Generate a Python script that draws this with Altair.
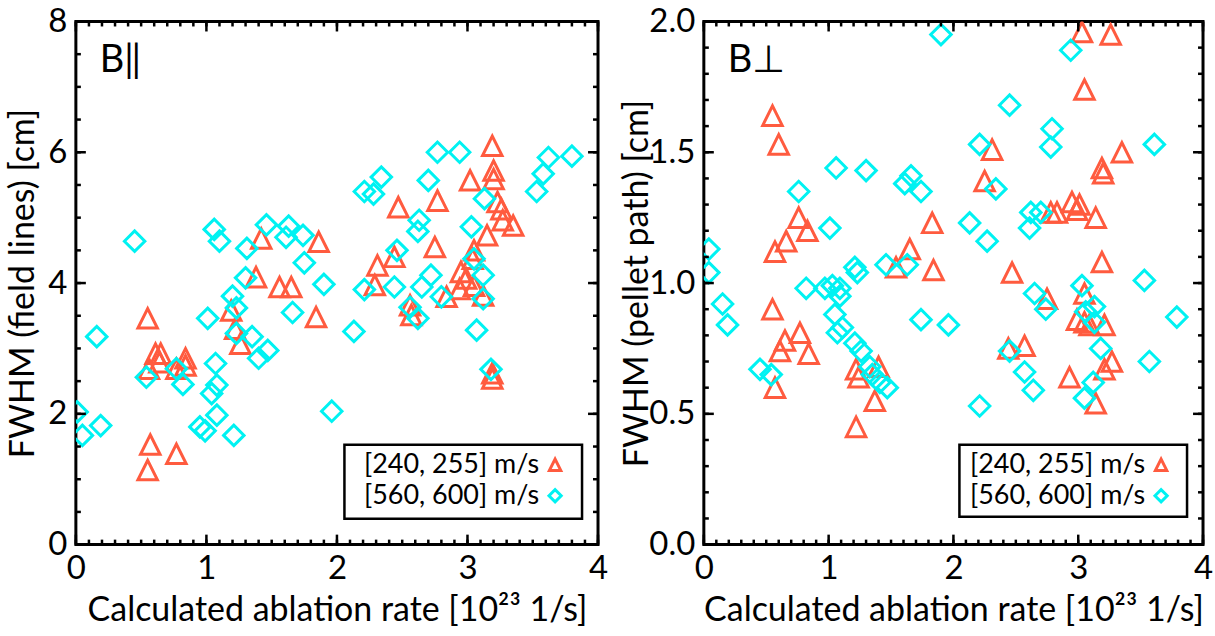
import altair as alt
import pandas as pd
import numpy as np

# ---------------- data ----------------
left_tri_x = [0.55, 0.61, 0.65, 0.64, 0.56, 0.84, 0.77, 0.84, 0.57, 0.55, 0.77,
              1.19, 1.22, 1.26, 1.38, 1.56, 1.65, 1.84, 1.42, 1.86,
              3.19, 3.20, 3.20, 3.02, 2.77, 2.47, 3.23, 3.26, 3.27, 3.35, 3.15, 3.05, 2.75, 3.04, 2.31, 2.44, 2.95,
              2.29, 2.56, 2.57, 2.84, 2.94, 2.99, 3.05, 3.12, 3.19, 3.19]
left_tri_y = [3.46, 2.92, 2.92, 2.79, 2.69, 2.85, 2.69, 2.74, 1.53, 1.14, 1.39,
              3.58, 3.30, 3.07, 4.09, 3.94, 3.94, 3.48, 4.68, 4.63,
              6.10, 5.72, 5.59, 5.57, 5.26, 5.16, 5.24, 5.13, 4.96, 4.88, 4.73, 4.50, 4.55, 4.37, 4.27, 4.40, 4.17,
              3.97, 3.66, 3.51, 3.79, 3.91, 4.07, 3.96, 3.81, 2.62, 2.54]

left_dia_x = [0.45, 1.06, 1.10, 1.31, 1.46, 1.63, 1.61, 1.74, 1.75, 1.30, 1.90,
              0.16, 0.01, 0.05, 0.19, 0.54, 0.77, 0.82, 1.01, 1.07, 1.08, 1.04, 1.08, 0.95, 0.99, 1.21,
              1.20, 1.23, 1.23, 1.35, 1.40, 1.47, 1.66, 1.96,
              2.77, 2.94, 3.62, 3.80, 3.58, 3.53, 2.34, 2.21, 2.28, 2.70, 3.13, 2.63, 2.62, 3.03, 2.46, 3.05,
              2.21, 2.44, 2.65, 2.72, 2.80, 3.12, 3.12, 2.56, 2.62, 2.13, 3.07, 3.18]
left_dia_y = [4.64, 4.82, 4.64, 4.53, 4.89, 4.87, 4.70, 4.73, 4.31, 4.08, 3.98,
              3.18, 2.03, 1.67, 1.82, 2.56, 2.69, 2.45, 3.46, 2.77, 2.44, 2.31, 1.98, 1.80, 1.74, 1.67,
              3.80, 3.62, 3.23, 3.18, 2.85, 2.97, 3.55, 2.04,
              6.00, 6.00, 5.92, 5.94, 5.67, 5.40, 5.62, 5.40, 5.36, 5.57, 5.29, 4.96, 4.79, 4.86, 4.50, 4.37,
              3.90, 3.94, 3.94, 4.12, 3.79, 3.76, 4.12, 3.63, 3.46, 3.26, 3.28, 2.68]

right_tri_x = [0.55, 0.60, 0.76, 0.83, 0.66, 0.57, 1.83, 1.65, 1.54, 1.84,
               0.55, 0.65, 0.61, 0.77, 0.84, 0.57, 1.22, 1.24, 1.40, 1.37, 1.22,
               3.03, 3.26, 3.05, 2.31, 3.35, 3.19, 3.20, 2.25, 2.78, 2.83, 2.95, 3.01, 2.99, 3.14, 3.19, 2.47,
               2.75, 3.05, 2.99, 3.05, 3.09, 3.21, 3.27, 3.21, 2.57, 2.44, 2.93, 3.14]
right_tri_y = [1.64, 1.53, 1.25, 1.20, 1.16, 1.12, 1.23, 1.13, 1.06, 1.05,
               0.90, 0.78, 0.74, 0.81, 0.73, 0.60, 0.67, 0.64, 0.68, 0.55, 0.45,
               1.96, 1.95, 1.74, 1.51, 1.50, 1.44, 1.42, 1.39, 1.27, 1.27, 1.31, 1.30, 1.28, 1.25, 1.08, 1.04,
               0.94, 0.96, 0.86, 0.85, 0.84, 0.84, 0.70, 0.67, 0.76, 0.75, 0.64, 0.54]

right_dia_x = [1.90, 1.06, 1.30, 0.76, 1.66, 1.61, 1.74, 1.01, 0.04, 0.04, 1.46, 1.63, 1.21, 1.23,
               0.15, 0.19, 0.82, 0.97, 1.03, 1.09, 1.09, 1.05, 1.11, 1.07, 1.21, 1.26, 1.33, 1.35, 1.41, 1.47,
               0.45, 0.54, 1.74, 1.96,
               2.94, 2.45, 2.79, 2.78, 2.21, 3.61, 2.34, 2.13, 2.27, 2.62, 2.70, 2.61, 3.53,
               3.03, 2.65, 2.74, 3.79, 3.06, 3.13, 3.13, 3.18, 3.57, 2.45, 2.57, 2.64, 2.21, 3.12, 3.05]
right_dia_y = [1.95, 1.44, 1.43, 1.35, 1.41, 1.38, 1.35, 1.21, 1.13, 1.04, 1.07, 1.07, 1.06, 1.04,
               0.92, 0.84, 0.98, 0.98, 0.99, 0.98, 0.95, 0.88, 0.83, 0.81, 0.77, 0.74, 0.68, 0.65, 0.62, 0.60,
               0.67, 0.65, 0.86, 0.84,
               1.89, 1.68, 1.59, 1.52, 1.53, 1.53, 1.36, 1.23, 1.16, 1.27, 1.27, 1.21, 1.01,
               0.99, 0.96, 0.90, 0.87, 0.89, 0.91, 0.85, 0.75, 0.70, 0.74, 0.66, 0.59, 0.53, 0.62, 0.56]

legend_labels = ["[240, 255] m/s", "[560, 600] m/s"]
x_major = [0, 1, 2, 3, 4]
x_minor = [round(v, 2) for v in np.arange(0, 4.001, 0.1)]
left_y_major = [0, 2, 4, 6, 8]
left_y_minor = [round(v, 2) for v in np.arange(0, 8.001, 0.5)]
right_y_major = [0.0, 0.5, 1.0, 1.5, 2.0]
right_y_minor = [round(v, 2) for v in np.arange(0, 2.001, 0.1)]

x_title = "Calculated ablation rate [10²³ 1/s]"
left_y_title = "FWHM (field lines) [cm]"
right_y_title = "FWHM (pellet path) [cm]"
left_tag = "B‖"
right_tag = "B⊥"

# ---------------- style ----------------
FONT = "Lato"
RED = "#FF5B3F"
CYAN = "#00F2F2"
TRI = "M-1,1L1,1L0,-1Z"
H = 524


def panel(tx, ty, dx, dy, ymaj, ymin, ydom, yfmt, ytitle, ytitle_pad, tag, W, leg):
    xs = alt.Scale(domain=[0, 4], nice=False, zero=False)
    ys = alt.Scale(domain=ydom, nice=False, zero=False)
    common_axis = dict(ticks=False, domain=False, grid=False, labelFont=FONT, titleFont=FONT,
                       labelColor="black", titleColor="black", labelFontSize=33,
                       titleFontSize=34, titleFontWeight="normal", labelFlush=False,
                       labelOverlap=False)
    xaxis = alt.Axis(values=x_major, format="d", title=x_title, labelPadding=8,
                     titlePadding=8, **common_axis)
    yaxis = alt.Axis(values=ymaj, format=yfmt, title=ytitle, labelPadding=9,
                     titlePadding=ytitle_pad, **common_axis)

    def X(field="x"):
        return alt.X(f"{field}:Q", scale=xs, axis=xaxis, title=x_title)

    def Y(field="y"):
        return alt.Y(f"{field}:Q", scale=ys, axis=yaxis, title=ytitle)

    tri = pd.DataFrame({"x": tx, "y": ty})
    dia = pd.DataFrame({"x": dx, "y": dy})
    tri_layer = alt.Chart(tri).mark_point(shape=TRI, filled=False, color=RED, strokeWidth=3,
                                          size=380, opacity=1, clip=True).encode(x=X(), y=Y())
    dia_layer = alt.Chart(dia).mark_point(shape="diamond", filled=False, color=CYAN, strokeWidth=3,
                                          size=420, opacity=1, clip=True).encode(x=X(), y=Y())

    layers = [tri_layer, dia_layer]

    def xticks(vals, ln):
        d = pd.DataFrame({"x": vals})
        base = alt.Chart(d).mark_rule(color="black", strokeWidth=2.5)
        return [base.encode(x=X(), y=alt.value(H), y2=alt.value(H - ln)),
                base.encode(x=X(), y=alt.value(0), y2=alt.value(ln))]

    def yticks(vals, ln):
        d = pd.DataFrame({"y": vals})
        base = alt.Chart(d).mark_rule(color="black", strokeWidth=2.5)
        return [base.encode(y=Y(), x=alt.value(0), x2=alt.value(ln)),
                base.encode(y=Y(), x=alt.value(W), x2=alt.value(W - ln))]

    layers += xticks(x_minor, 5) + xticks(x_major, 10) + yticks(ymin, 5) + yticks(ymaj, 10)

    one = pd.DataFrame({"a": [0]})
    bx0, bx1, by0, by1, txr, sx, ty1, ty2 = leg
    layers.append(alt.Chart(one).mark_rect(fill="white", stroke="black", strokeWidth=2.5).encode(
        x=alt.value(bx0), x2=alt.value(bx1), y=alt.value(by0), y2=alt.value(by1)))
    for lab, yy in zip(legend_labels, [ty1, ty2]):
        layers.append(alt.Chart(one).mark_text(align="right", baseline="middle", fontSize=27,
                                               font=FONT, color="black").encode(
            x=alt.value(txr), y=alt.value(yy), text=alt.value(lab)))
    layers.append(alt.Chart(one).mark_point(shape=TRI, filled=False, color=RED, strokeWidth=3,
                                            size=130, opacity=1).encode(
        x=alt.value(sx), y=alt.value(ty1)))
    layers.append(alt.Chart(one).mark_point(shape="diamond", filled=False, color=CYAN, strokeWidth=3,
                                            size=150, opacity=1).encode(
        x=alt.value(sx), y=alt.value(ty2)))
    layers.append(alt.Chart(one).mark_text(align="left", baseline="middle", fontSize=38,
                                           font=FONT, color="black").encode(
        x=alt.value(24), y=alt.value(40), text=alt.value(tag)))

    return alt.layer(*layers).properties(width=W, height=H)


left = panel(left_tri_x, left_tri_y, left_dia_x, left_dia_y, left_y_major, left_y_minor,
             [0, 8], "d", left_y_title, 7, left_tag, 523,
             (269, 507, 424, 498, 464, 480, 444, 475))
right = panel(right_tri_x, right_tri_y, right_dia_x, right_dia_y, right_y_major, right_y_minor,
              [0, 2], ".1f", right_y_title, -6, right_tag, 500,
              (256, 484, 424, 496, 442, 458, 444, 475))

chart = alt.hconcat(left, right, spacing=9).properties(
    padding={"left": 5, "top": 3, "right": 0, "bottom": 0}
).configure_view(stroke="black", strokeWidth=3)

chart.save("out.html", embed_options={"renderer": "svg", "actions": False})
